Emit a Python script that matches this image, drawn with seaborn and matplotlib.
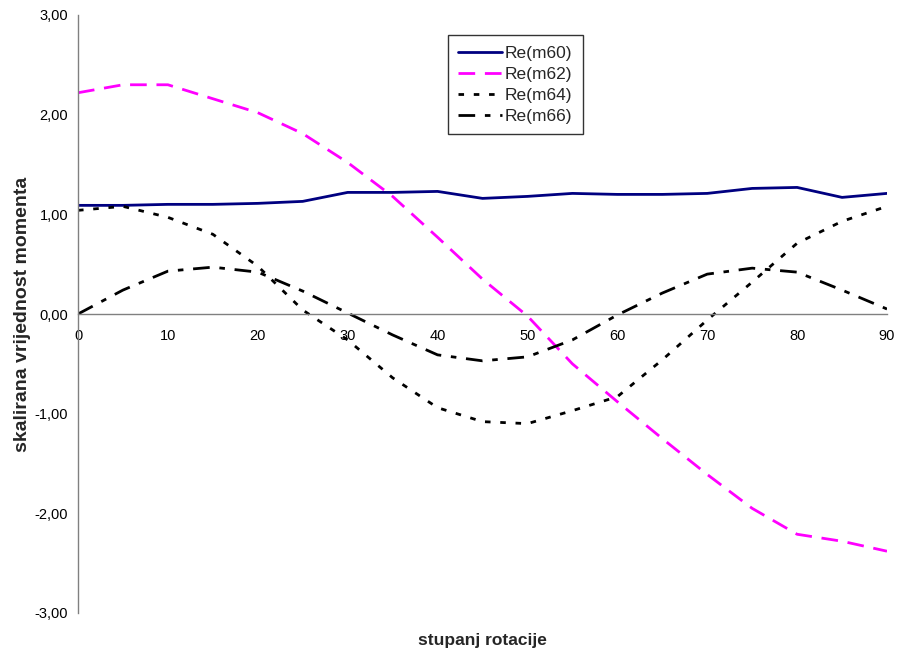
import pandas as pd
import seaborn as sns
import matplotlib.pyplot as plt
import matplotlib.ticker as mticker

# kut rotacije (stupnjevi)
angles = list(range(0, 95, 5))

re_m60 = [1.09, 1.09, 1.10, 1.10, 1.11, 1.13, 1.22, 1.22, 1.23, 1.16,
          1.18, 1.21, 1.20, 1.20, 1.21, 1.26, 1.27, 1.17, 1.21]
re_m62 = [2.22, 2.30, 2.30, 2.16, 2.02, 1.81, 1.52, 1.18, 0.77, 0.35,
          -0.02, -0.50, -0.88, -1.25, -1.61, -1.95, -2.21, -2.28, -2.38]
re_m64 = [1.04, 1.08, 0.97, 0.80, 0.48, 0.04, -0.26, -0.64, -0.94, -1.08,
          -1.10, -0.97, -0.83, -0.46, -0.06, 0.32, 0.71, 0.93, 1.08]
re_m66 = [0.00, 0.24, 0.43, 0.47, 0.42, 0.23, 0.01, -0.21, -0.41, -0.47,
          -0.43, -0.26, -0.01, 0.21, 0.40, 0.46, 0.42, 0.24, 0.05]

series = {
    "Re(m60)": (re_m60, "#000080", ""),
    "Re(m62)": (re_m62, "#ff00ff", (6, 3.5)),
    "Re(m64)": (re_m64, "black", (2, 3.5)),
    "Re(m66)": (re_m66, "black", (6, 3.5, 2, 3.5)),
}

sns.set_style("white")
plt.rcParams["font.family"] = ["Liberation Sans", "DejaVu Sans"]

fig = plt.figure(figsize=(8.97, 6.56), dpi=100)
ax = fig.add_axes([78 / 897, 1 - 613 / 656, 809 / 897, 598 / 656])

for name, (vals, color, dash) in series.items():
    df = pd.DataFrame({"kut": angles, "vrijednost": vals})
    sns.lineplot(data=df, x="kut", y="vrijednost", ax=ax,
                 color=color, lw=2, label=name)
    if dash:
        ax.lines[-1].set_dashes(dash)

ax.set_xlim(0, 90)
ax.set_ylim(-3, 3)
ax.xaxis.set_major_locator(mticker.MultipleLocator(10))
ax.yaxis.set_major_locator(mticker.MultipleLocator(1))
ax.yaxis.set_major_formatter(
    mticker.FuncFormatter(lambda v, p: f"{v:.2f}".replace(".", ",").replace("-0,00", "0,00"))
)

for s in ["top", "right"]:
    ax.spines[s].set_visible(False)
ax.spines["bottom"].set_position(("data", 0))
for s in ["left", "bottom"]:
    ax.spines[s].set_color("#808080")
    ax.spines[s].set_linewidth(1)

ax.tick_params(axis="both", direction="out", length=4, width=1,
               color="#808080", labelsize=10.5, labelcolor="black")
ax.tick_params(axis="x", pad=7)
ax.tick_params(axis="y", pad=3)

ax.set_xlabel("")
ax.set_ylabel("skalirana vrijednost momenta", fontsize=14,
              fontweight="bold", labelpad=3)
fig.text(482 / 897, 1 - 641 / 656, "stupanj rotacije", ha="center",
         va="center", fontsize=12.5, fontweight="bold")

leg = ax.legend(loc="upper left", bbox_to_anchor=(0.457, 0.966),
                fontsize=12.5, frameon=True, fancybox=False, handlelength=2.5,
                borderpad=0.6, labelspacing=0.34, handletextpad=0.2,
                borderaxespad=0)
leg.get_frame().set_edgecolor("black")
leg.get_frame().set_linewidth(1)

fig.savefig("out.png", dpi=100)
